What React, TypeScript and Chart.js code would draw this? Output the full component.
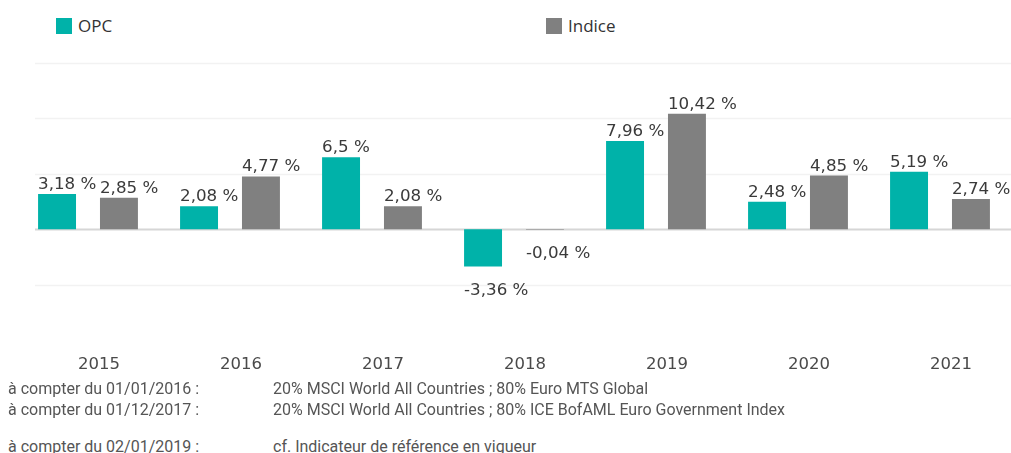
import React, { useEffect, useRef } from "react";
import { Chart, registerables } from "chart.js";

Chart.register(...registerables);

const years = ["2015", "2016", "2017", "2018", "2019", "2020", "2021"];
const opcValues = [3.18, 2.08, 6.5, -3.36, 7.96, 2.48, 5.19];
const indiceValues = [2.85, 4.77, 2.08, -0.04, 10.42, 4.85, 2.74];
const gridValues = [15, 10, 5, -5];
const seriesNames = ["OPC", "Indice"];
const seriesColors = ["#00b2a9", "#808080"];
const footDates = [
  "à compter du 01/01/2016 :",
  "à compter du 01/12/2017 :",
  "à compter du 02/01/2019 :",
];
const footTexts = [
  "20% MSCI World All Countries ; 80% Euro MTS Global",
  "20% MSCI World All Countries ; 80% ICE BofAML Euro Government Index",
  "cf. Indicateur de référence en vigueur",
];

const fmt = (v: number) => String(v).replace(".", ",") + " %";

const gridPlugin = {
  id: "customGrid",
  beforeDatasetsDraw(chart: any) {
    const { ctx, chartArea, scales } = chart;
    const y = scales.y;
    ctx.save();
    ctx.lineWidth = 1.5;
    ctx.strokeStyle = "#f2f2f2";
    gridValues.forEach((v) => {
      const py = Math.round(y.getPixelForValue(v)) + 0.5;
      ctx.beginPath();
      ctx.moveTo(chartArea.left + 18, py);
      ctx.lineTo(chartArea.right, py);
      ctx.stroke();
    });
    ctx.lineWidth = 2;
    ctx.strokeStyle = "#d6d6d6";
    const pz = Math.round(y.getPixelForValue(0)) + 0.5;
    ctx.beginPath();
    ctx.moveTo(chartArea.left + 18, pz);
    ctx.lineTo(chartArea.right, pz);
    ctx.stroke();
    ctx.restore();
  },
  afterDatasetsDraw(chart: any) {
    const { ctx } = chart;
    ctx.save();
    ctx.font = "16.7px 'DejaVu Sans'";
    ctx.fillStyle = "#3a3a3a";
    ctx.textAlign = "left";
    ctx.textBaseline = "alphabetic";
    chart.data.datasets.forEach((ds: any, di: number) => {
      const meta = chart.getDatasetMeta(di);
      meta.data.forEach((bar: any, i: number) => {
        const v = ds.data[i];
        const left = bar.x - bar.width / 2;
        const ty = v >= 0 ? bar.y - 5 : bar.y + 28;
        ctx.fillText(fmt(v), left, ty);
      });
    });
    ctx.restore();
  },
};

export default function App() {
  const ref = useRef<HTMLCanvasElement | null>(null);

  useEffect(() => {
    if (!ref.current) return;
    const chart = new Chart(ref.current, {
      type: "bar",
      data: {
        labels: years,
        datasets: [
          {
            label: seriesNames[0],
            data: opcValues,
            backgroundColor: seriesColors[0],
            categoryPercentage: 0.872,
            barPercentage: 0.613,
          },
          {
            label: seriesNames[1],
            data: indiceValues,
            backgroundColor: seriesColors[1],
            categoryPercentage: 0.872,
            barPercentage: 0.613,
          },
        ],
      },
      options: {
        animation: false,
        responsive: false,
        maintainAspectRatio: false,
        layout: { padding: { left: 17, right: 0, top: 63, bottom: 3 } },
        plugins: {
          legend: { display: false },
          tooltip: { enabled: false },
        },
        scales: {
          x: {
            grid: { display: false, drawTicks: false, tickLength: 0 },
            border: { display: false },
            ticks: {
              font: { family: "'DejaVu Sans'", size: 16.5 },
              color: "#4a4a4a",
              labelOffset: 11,
              padding: 15,
            },
          },
          y: {
            display: false,
            min: -10,
            max: 15,
          },
        },
      },
      plugins: [gridPlugin],
    });
    return () => chart.destroy();
  }, []);

  const legendItem = (i: number, left: number) => (
    <div
      key={i}
      style={{
        position: "absolute",
        left,
        top: 17,
        display: "flex",
        alignItems: "center",
        fontFamily: "'Open Sans'",
        fontSize: 17,
        color: "#333",
        lineHeight: "18px",
      }}
    >
      <span
        style={{
          display: "inline-block",
          width: 16,
          height: 16,
          background: seriesColors[i],
          marginRight: 6,
        }}
      />
      <span>{seriesNames[i]}</span>
    </div>
  );

  const footTops = [380, 401, 438];

  return (
    <div
      style={{
        position: "fixed",
        left: 0,
        top: 0,
        width: 1011,
        height: 453,
        background: "#fff",
        overflow: "hidden",
      }}
    >
      {legendItem(0, 56)}
      {legendItem(1, 546)}
      <canvas
        ref={ref}
        width={1011}
        height={393}
        style={{ position: "absolute", left: 0, top: 0, width: 1011, height: 393 }}
      />
      {footDates.map((d, i) => (
        <React.Fragment key={i}>
          <div
            style={{
              position: "absolute",
              left: 8,
              top: footTops[i],
              fontFamily: "Roboto",
              fontSize: 16,
              color: "#555",
              whiteSpace: "nowrap",
              lineHeight: "18px",
            }}
          >
            {d}
          </div>
          <div
            style={{
              position: "absolute",
              left: 273,
              top: footTops[i],
              fontFamily: "Roboto",
              fontSize: 16,
              color: "#555",
              whiteSpace: "nowrap",
              lineHeight: "18px",
            }}
          >
            {footTexts[i]}
          </div>
        </React.Fragment>
      ))}
    </div>
  );
}
